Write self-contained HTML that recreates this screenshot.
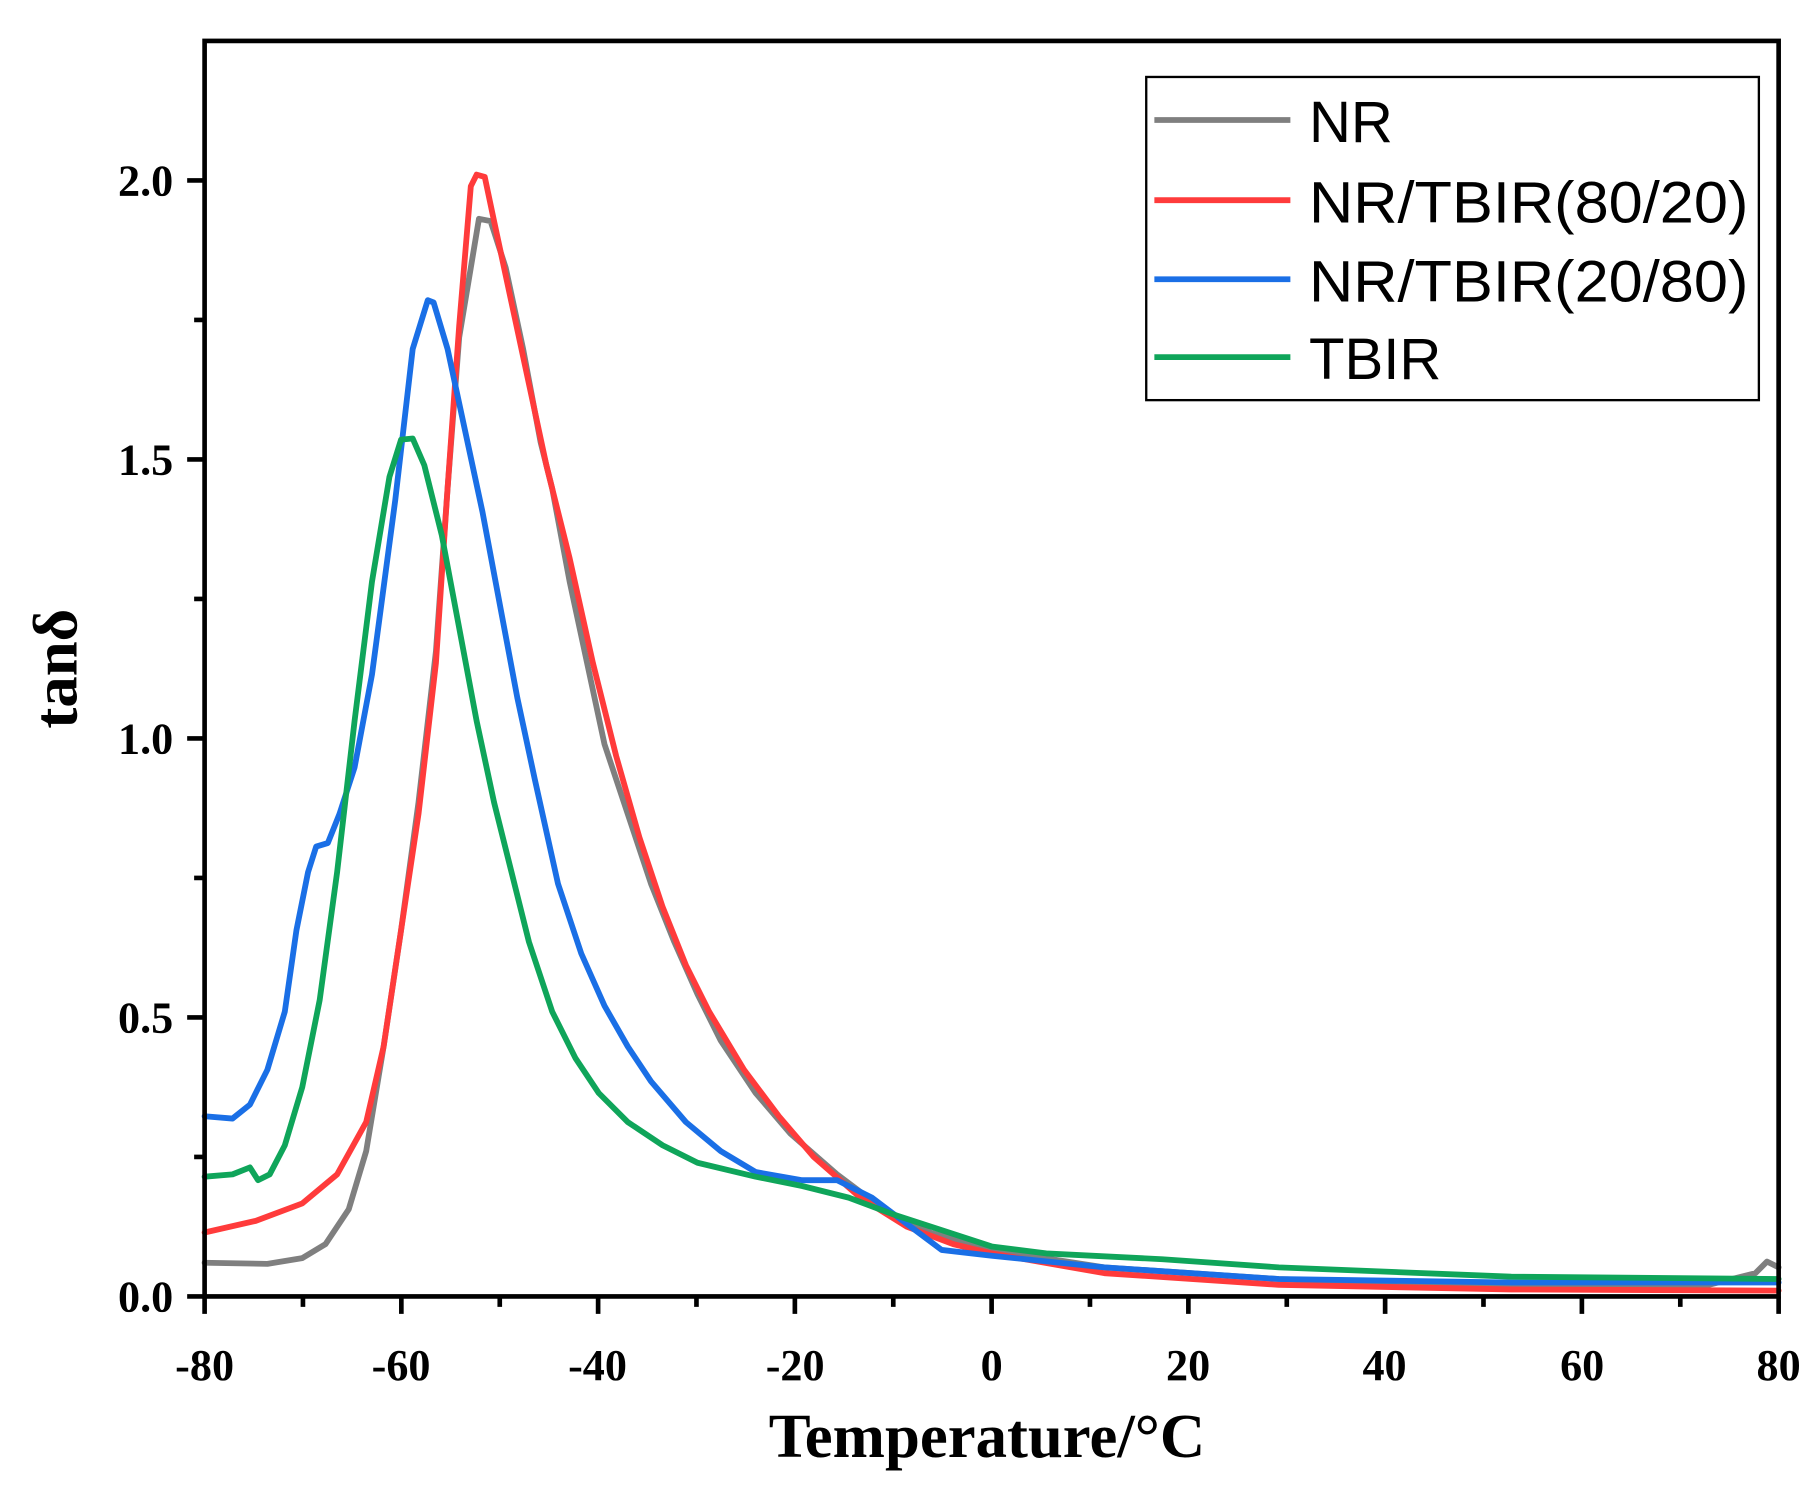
<!DOCTYPE html>
<html><head><style>html,body{margin:0;padding:0;background:#fff}</style></head><body>
<svg width="1817" height="1485" viewBox="0 0 1563 1277" xmlns="http://www.w3.org/2000/svg" style="display:block">
<rect width="1563" height="1277" fill="#fff"/>
<g fill="none" stroke-width="5" stroke-linejoin="round" stroke-linecap="round">
<polyline stroke="#7f7f7f" points="176,1086 230,1087 260,1082 280,1070 300,1040 315,990 330,900 345,800 360,690 375,560 385,420 395,290 405,230 412,188 422,190 435,230 450,300 465,380 475,420 490,500 505,570 520,640 540,700 560,760 580,810 600,855 620,895 650,940 680,975 720,1010 760,1040 800,1060 853,1075 950,1090 1100,1100 1300,1107 1470,1105 1510,1095 1520,1085 1530,1090"/>
<polyline stroke="#ff3b3b" points="176,1060 220,1050 260,1035 290,1010 315,965 330,900 345,800 360,700 375,570 385,420 395,280 405,160 410,150 417,152 425,190 440,260 455,330 470,400 490,480 510,570 530,650 550,720 570,780 590,830 610,870 640,920 670,960 700,995 740,1030 780,1055 820,1070 853,1078 950,1095 1100,1105 1300,1109 1530,1110"/>
<polyline stroke="#1a6fe6" points="176,960 200,962 215,950 230,920 245,870 255,800 265,750 272,728 282,725 292,700 305,660 320,580 340,430 355,300 368,258 373,260 385,300 400,370 415,440 430,520 445,600 460,670 480,760 500,820 520,865 540,900 560,930 590,965 620,990 650,1008 690,1015 720,1015 750,1030 790,1060 810,1075 853,1080 950,1090 1100,1100 1300,1103 1530,1103"/>
<polyline stroke="#0fa55a" points="176,1012 200,1010 215,1004 222,1015 232,1010 245,985 260,935 275,860 290,750 305,620 320,500 335,410 345,378 355,377 365,400 380,460 395,540 410,620 425,690 440,750 455,810 475,870 495,910 515,940 540,965 570,985 600,1000 650,1012 690,1020 730,1030 770,1045 810,1058 853,1072 900,1078 1000,1083 1100,1090 1300,1098 1530,1100"/>
</g>
<g stroke="#000" stroke-width="4" fill="none">
<rect x="176" y="35" width="1354" height="1080"/>
<path d="M176,1115v15M345.25,1115v15M514.5,1115v15M683.75,1115v15M853,1115v15M1022.25,1115v15M1191.5,1115v15M1360.75,1115v15M1530,1115v15"/>
<path d="M260.6,1115v9M429.9,1115v9M599.1,1115v9M768.4,1115v9M937.6,1115v9M1106.9,1115v9M1276.1,1115v9M1445.4,1115v9"/>
<path d="M176,1115h-15M176,875h-15M176,635h-15M176,395h-15M176,155h-15"/>
<path d="M176,995h-9M176,755h-9M176,515h-9M176,275h-9"/>
</g>
<g font-family="Liberation Serif, serif" font-weight="bold" font-size="38" fill="#000">
<g text-anchor="middle">
<text x="176" y="1187">-80</text><text x="345" y="1187">-60</text><text x="514" y="1187">-40</text><text x="684" y="1187">-20</text><text x="853" y="1187">0</text><text x="1022" y="1187">20</text><text x="1191" y="1187">40</text><text x="1361" y="1187">60</text><text x="1530" y="1187">80</text>
</g>
<g text-anchor="end">
<text x="149" y="1128">0.0</text><text x="149" y="888">0.5</text><text x="149" y="648">1.0</text><text x="149" y="408">1.5</text><text x="149" y="168">2.0</text>
</g>
<text x="849" y="1253" text-anchor="middle" font-size="54">Temperature/°C</text>
<text transform="translate(66,575) rotate(-90)" text-anchor="middle" font-size="54">tanδ</text>
</g>
<rect x="986" y="66" width="527" height="278" fill="#fff" stroke="#000" stroke-width="2"/>
<g stroke-width="5">
<line x1="993" y1="103" x2="1110" y2="103" stroke="#7f7f7f"/>
<line x1="993" y1="172" x2="1110" y2="172" stroke="#ff3b3b"/>
<line x1="993" y1="240" x2="1110" y2="240" stroke="#1a6fe6"/>
<line x1="993" y1="307" x2="1110" y2="307" stroke="#0fa55a"/>
</g>
<g font-family="Liberation Sans, sans-serif" font-size="50" fill="#000">
<text x="1126" y="122">NR</text>
<text x="1126" y="191" textLength="378" lengthAdjust="spacingAndGlyphs">NR/TBIR(80/20)</text>
<text x="1126" y="259" textLength="378" lengthAdjust="spacingAndGlyphs">NR/TBIR(20/80)</text>
<text x="1126" y="326">TBIR</text>
</g>
</svg>
</body></html>
